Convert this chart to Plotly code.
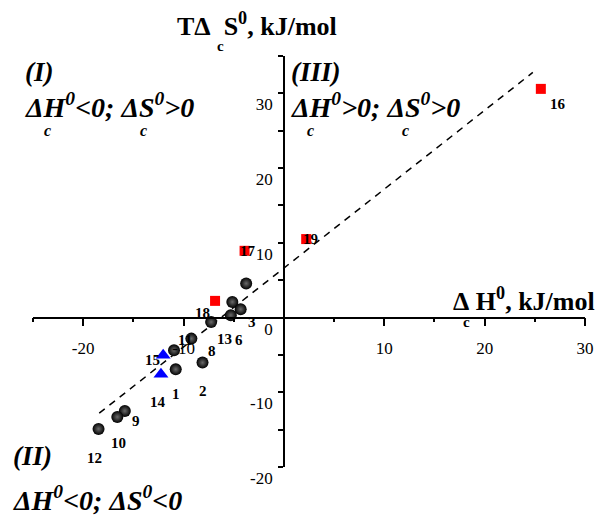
import plotly.graph_objects as go

# ---------------- data ----------------
sphere_x = [-3.76, -5.14, -4.31, -5.29, -7.25, -9.22, -10.95, -10.78, -8.11, -15.85, -16.6, -18.47]
sphere_y = [4.56, 2.09, 1.11, 0.31, -0.6, -2.82, -4.38, -6.93, -6.03, -12.5, -13.3, -14.9]
sphere_lbl = ["", "13", "3", "6", "18", "8", "11", "1", "2", "9", "10", "12"]

square_x = [25.6, -3.92, 2.22, -6.86]
square_y = [30.6, 8.93, 10.5, 2.23]
square_lbl = ["16", "17", "19", ""]

tri_x = [-12.25, -12.03]
tri_y = [-7.6, -5.05]
tri_lbl = ["14", "15"]

fit_x = [-18.4, 24.8]
fit_y = [-12.8, 32.8]

x_ticks = [-20, -10, 10, 20, 30]
y_ticks = [-20, -10, 0, 10, 20, 30]

# label offsets in pixels (dx right, dy down)
label_off = {
    "1": (0, 25), "2": (0, 28), "3": (11, 13), "6": (8, 25), "8": (21, 12),
    "9": (11, 10), "10": (1, 26), "11": (11, -10), "12": (-4, 29), "13": (-8, 37),
    "14": (-3, 28), "15": (-11, 5), "16": (17, 15), "17": (3, 0), "18": (-9, -9),
    "19": (4, 0),
}

SERIF = "Liberation Serif"

fig = go.Figure()

fig.add_trace(go.Scatter(x=fit_x, y=fit_y, mode="lines",
                         line=dict(color="black", width=1.5, dash="7px,6px"),
                         hoverinfo="skip", showlegend=False))
fig.add_trace(go.Scatter(x=square_x, y=square_y, mode="markers",
                         marker=dict(symbol="square", size=10, color="#ff0000"),
                         showlegend=False))
fig.add_trace(go.Scatter(x=sphere_x, y=sphere_y, mode="markers",
                         marker=dict(symbol="circle", size=12, color="#000000",
                                     gradient=dict(type="radial", color="#6a6a6a"),
                                     line=dict(width=0)),
                         showlegend=False))
fig.add_trace(go.Scatter(x=tri_x, y=tri_y, mode="markers",
                         marker=dict(symbol="triangle-up", size=13, color="#0000ff"),
                         showlegend=False))

annotations = []
for xs, ys, ls in [(sphere_x, sphere_y, sphere_lbl), (square_x, square_y, square_lbl),
                   (tri_x, tri_y, tri_lbl)]:
    for x, y, l in zip(xs, ys, ls):
        if not l:
            continue
        dx, dy = label_off[l]
        annotations.append(dict(x=x, y=y, xref="x", yref="y", text=l, showarrow=False,
                                xshift=dx, yshift=-dy,
                                font=dict(family=SERIF, size=15, color="black",
                                          weight="bold")))

L, R, T, B = 33, 9, 56, 51
W, H = 603, 518
PW, PH = W - L - R, H - T - B


def P(px, py):
    return (px - L) / PW, (H - B - py) / PH


def txt(px, py, s, size, xanchor="left", italic=True):
    x, y = P(px, py)
    annotations.append(dict(x=x, y=y, xref="paper", yref="paper", text=s, showarrow=False,
                            xanchor=xanchor, yanchor="middle",
                            font=dict(family=SERIF, size=size, color="black", weight="bold",
                                      style="italic" if italic else "normal")))


# axis titles
txt(261, 25, "TΔ&nbsp;&nbsp;S<sup>0</sup>, kJ/mol", 26, xanchor="center", italic=False)
txt(224, 46, "c", 15, xanchor="center", italic=False)
txt(606, 299, "Δ&nbsp;H<sup>0</sup>, kJ/mol", 26, xanchor="right", italic=False)
txt(474, 322, "c", 15, xanchor="center", italic=False)

# quadrant texts
txt(23, 72, "(I)", 27)
txt(23, 106, "ΔH<sup>0</sup>&lt;0; ΔS<sup>0</sup>&gt;0", 28)
txt(48, 130, "c", 16, xanchor="center")
txt(145, 130, "c", 16, xanchor="center")

txt(293, 72, "(III)", 27)
txt(293, 106, "ΔH<sup>0</sup>&gt;0; ΔS<sup>0</sup>&gt;0", 28)
txt(315, 130, "c", 16, xanchor="center")
txt(412, 130, "c", 16, xanchor="center")

txt(11, 456, "(II)", 27)
txt(11, 498, "ΔH<sup>0</sup>&lt;0; ΔS<sup>0</sup>&lt;0", 28)
txt(35, 522, "c", 16, xanchor="center")
txt(133, 522, "c", 16, xanchor="center")

xr = [-25, 30]
yr = [-20, 35]

fig.update_layout(
    width=W, height=H,
    margin=dict(l=L, r=R, t=T, b=B),
    paper_bgcolor="white", plot_bgcolor="white",
    showlegend=False,
    annotations=annotations,
    xaxis=dict(range=xr, domain=[0, 1], anchor="free", position=(0 - yr[0]) / (yr[1] - yr[0]),
               showgrid=False, zeroline=False, showline=True, linecolor="black", linewidth=1.5,
               tickmode="array", tickvals=x_ticks, ticktext=[str(v) for v in x_ticks],
               ticks="outside", ticklen=8, tickwidth=1.5, tickcolor="black",
               minor=dict(dtick=5, tick0=-25, ticks="outside", ticklen=4, tickwidth=1.5,
                          tickcolor="black", showgrid=False),
               ticklabelstandoff=7,
               tickfont=dict(family=SERIF, size=17, color="black")),
    yaxis=dict(range=yr, domain=[0, 1], anchor="free", position=(0 - xr[0]) / (xr[1] - xr[0]),
               showgrid=False, zeroline=False, showline=True, linecolor="black", linewidth=1.5,
               tickmode="array", tickvals=y_ticks, ticktext=[str(v) for v in y_ticks],
               ticks="outside", ticklen=5, tickwidth=1.5, tickcolor="black",
               minor=dict(dtick=5, tick0=-20, ticks="outside", ticklen=5, tickwidth=1.5,
                          tickcolor="black", showgrid=False),
               ticklabelshift=11, ticklabelstandoff=2,
               tickfont=dict(family=SERIF, size=17, color="black")),
)

fig.write_html("out.html")
